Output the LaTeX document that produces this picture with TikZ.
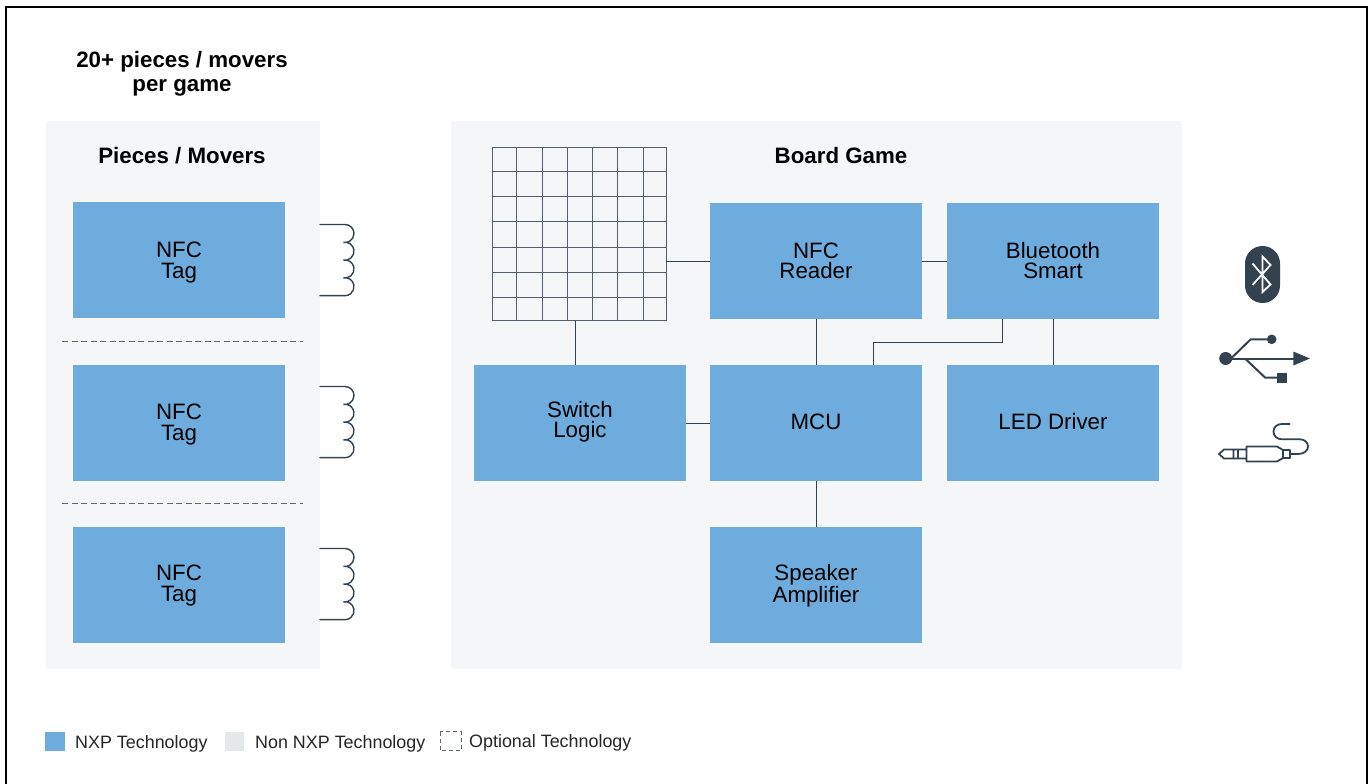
\documentclass[tikz,border=0pt]{standalone}
\usepackage{fontspec}
\setmainfont{Liberation Sans}
\definecolor{nxp}{HTML}{6FACDE}
\definecolor{panel}{HTML}{F5F6F8}
\definecolor{nonnxp}{HTML}{E4E8EB}
\definecolor{ink}{HTML}{33424F}
\tikzset{
  tech/.style={fill=nxp,draw=none,minimum width=212pt,minimum height=116pt,inner sep=0pt,align=center,font=\fontsize{22.3}{20}\selectfont},
  techtext/.style={inner sep=0pt,align=center,font=\fontsize{22.3}{20}\selectfont},
  tagtext/.style={inner sep=0pt,align=center,font=\fontsize{22.3}{21}\selectfont},
  wire/.style={draw=ink,line width=1pt},
  head/.style={font=\bfseries\fontsize{22.3}{24}\selectfont,align=center,inner sep=0pt},
  legend/.style={font=\fontsize{17.9}{18}\selectfont,anchor=west,inner sep=0pt,text=black!85},
  coil/.style={draw=ink,line width=1.4pt,line cap=round}
}
\newcommand{\coilat}[2]{%
 \draw[coil] (#1,#2) -- ++(25,0) arc[start angle=-90,end angle=100,radius=9]
   arc[start angle=-100,end angle=100,radius=9]
   arc[start angle=-100,end angle=100,radius=9]
   arc[start angle=-100,end angle=90,radius=9] -- ++(-25,0);}
\begin{document}
\begin{tikzpicture}[x=1pt,y=-1pt]
\useasboundingbox (0,0) rectangle (1369,784);
\fill[white] (0,0) rectangle (1369,784);
\draw[black,line width=2.2pt] (6,784) -- (6,7) -- (1367,7) -- (1367,784);
\node[head] (title) at (182,73.5) {20+ pieces / movers\\per game};
\fill[panel] (46,121) rectangle (320,669);
\fill[panel] (451,121) rectangle (1182,669);
\node[head] (pm) at (182,156) {Pieces / Movers};
\node[head] (bg) at (841,156) {Board Game};
\node[tech] (t1) at (179,260) {};
\node[tech] (t2) at (179,423) {};
\node[tech] (t3) at (179,585) {};
\node[tagtext] (t1t) at (179,262.5) {NFC\\Tag};
\node[tagtext] (t2t) at (179,424.5) {NFC\\Tag};
\node[tagtext] (t3t) at (179,586) {NFC\\Tag};
\draw[draw=ink!80,line width=0.9pt,dash pattern=on 6pt off 3.5pt] (62,341.5) -- (303,341.5);
\draw[draw=ink!80,line width=0.9pt,dash pattern=on 6pt off 3.5pt] (62,503.5) -- (303,503.5);
\coilat{320}{224.5}
\coilat{320}{386.5}
\coilat{320}{548.5}
% grid
\foreach \gx in {492.7,516.7,542,567.3,592.7,617.7,643.3,666}{
  \draw[wire,line width=1pt,draw=ink!85] (\gx,147) -- (\gx,320.5);}
\foreach \gy in {147,171,196.7,221.7,247.3,272.3,297.7,320.3}{
  \draw[wire,line width=1pt,draw=ink!85] (492.7,\gy) -- (666,\gy);}
\coordinate (gridR) at (666,261);
\coordinate (gridB) at (575.5,320.5);
\node[tech] (reader) at (816,261) {NFC\\Reader};
\node[tech] (bt) at (1053,261) {Bluetooth\\Smart};
\node[tech] (sw) at (580,423) {};
\node[techtext] (swt) at (580,422) {Switch\\Logic};
\node[tech] (mcu) at (816,423) {};
\node[techtext] (mcut) at (816,422) {MCU};
\node[tech] (led) at (1053,423) {};
\node[techtext] (ledt) at (1053,421.5) {LED Driver};
\node[tech] (amp) at (816,585) {};
\node[techtext] (ampt) at (816,586) {Speaker\\Amplifier};
\draw[wire] (gridR) -- (reader.west |- gridR);
\draw[wire] (reader.east) -- (bt.west);
\draw[wire] (reader.south) -- (mcu.north);
\draw[wire] (gridB) -- (gridB |- sw.north);
\draw[wire] (sw.east) -- (mcu.west);
\draw[wire] (mcu.south) -- (amp.north);
\draw[wire] (bt.south) -- (led.north);
\coordinate (busA) at (873.5,365);
\coordinate (busB) at (1002,319);
\draw[wire] (busA) -- (873.5,342.5) -- (1002,342.5) -- (busB);
% bluetooth icon
\fill[ink] (1245,263.5) arc[start angle=180,end angle=360,radius=17.5] -- (1280,285.5) arc[start angle=0,end angle=180,radius=17.5] -- cycle;
\draw[white,line width=1.8pt,line join=miter] (1252.5,263.5) -- (1270.5,284.5) -- (1262.5,292) -- (1262.5,256.5) -- (1270.5,265) -- (1252.5,285);
% usb icon
\fill[ink] (1225.7,358.5) circle (6.5);
\draw[ink,line width=2pt] (1225.7,358.5) -- (1295,358.5);
\fill[ink] (1293.3,351.5) -- (1310,358.5) -- (1293.3,365.5) -- cycle;
\draw[ink,line width=2pt] (1231,358.5) -- (1250.7,339.3) -- (1271,339.3);
\fill[ink] (1271.7,339.3) circle (4.8);
\draw[ink,line width=2pt] (1245,358.5) -- (1265,377.5) -- (1280,377.5);
\fill[ink] (1277.3,372.7) rectangle (1286.7,382.7);
% jack icon
\draw[ink,line width=1.8pt,line join=round]
  (1246.5,449.5) -- (1224,449.5) -- (1219,454) -- (1224,458.5) -- (1246.5,458.5)
  (1233.5,449.5) -- (1233.5,458.5) (1238,449.5) -- (1238,458.5)
  (1246.5,446.5) -- (1277,446.5) -- (1283,450) -- (1283,458) -- (1277,461.5) -- (1246.5,461.5) -- cycle
  (1283,450) -- (1290,450) -- (1290,458) -- (1283,458)
  (1290,454) -- (1298,454) .. controls (1304,454) and (1308,450.5) .. (1308,446.5) .. controls (1308,442) and (1304,439.3) .. (1300,439.3) -- (1282,439.3) .. controls (1277,439.3) and (1273.5,436) .. (1273.5,431.5) .. controls (1273.5,427) and (1277,424) .. (1282,424) -- (1290,424);
% legend
\fill[nxp] (45,732) rectangle (65,751);
\node[legend] (l1) at (75,743.5) {NXP Technology};
\fill[nonnxp] (225,732) rectangle (244,751);
\node[legend] (l2) at (255,743.5) {Non NXP Technology};
\draw[ink!80,line width=0.9pt,dash pattern=on 4pt off 3pt] (440,731.5) rectangle (461,750.5);
\node[legend] (l3) at (469,742.5) {Optional Technology};
\end{tikzpicture}
\end{document}
